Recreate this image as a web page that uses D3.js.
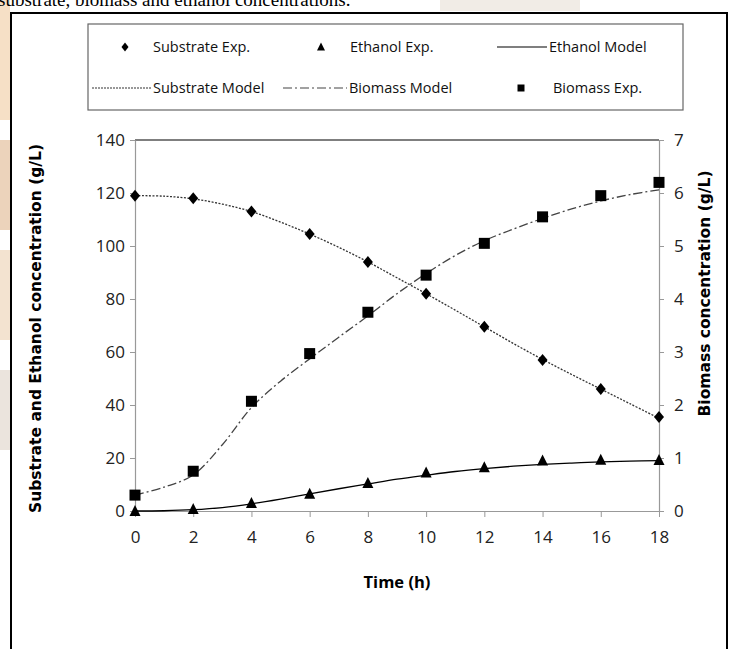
<!DOCTYPE html>
<html>
<head>
<meta charset="utf-8">
<script src="https://cdn.jsdelivr.net/npm/d3@7"></script>
<style>
body { margin:0; background:#fff; }
svg { display:block; }
</style>
</head>
<body>
<svg id="chart"></svg>
<script>
var screen = {width:730, height:649}
var margins = {top:140, right:71, bottom:138, left:135}

// time points (h)
var times = [0,2,4,6,8,10,12,14,16,18]
var modelTimes = [0,1,2,3,4,5,6,7,8,9,10,11,12,13,14,15,16,17,18]

// experimental values
var substrateExp = [119,118,113,104.5,94,82,69.5,57,46,35.5]
var ethanolExp = [0,0.7,3,6.5,10.5,14.5,16.5,19,19.3,19.2]
var biomassExp = [0.3,0.75,2.07,2.97,3.75,4.45,5.05,5.55,5.95,6.2]

// model curves (hourly)
var substrateModel = [119,118.8,117.8,115.8,113,109,104.5,99.5,94,88,82,75.8,69.5,63.2,57.2,51.5,46,40.5,35]
var ethanolModel = [0,0.1,0.5,1.3,2.7,4.5,6.5,8.4,10.2,12,13.5,14.9,16,16.9,17.6,18.1,18.5,18.8,19.0]
var biomassModel = [0.3,0.45,0.68,1.25,1.95,2.45,2.87,3.28,3.68,4.1,4.48,4.82,5.1,5.32,5.52,5.7,5.85,5.97,6.06]

// tick labels
var xTicks = [0,2,4,6,8,10,12,14,16,18]
var leftTicks = [0,20,40,60,80,100,120,140]
var rightTicks = [0,1,2,3,4,5,6,7]

var tickFont = "'Open Sans', sans-serif"

var svg = d3.select("#chart")
    .attr("width",screen.width)
    .attr("height",screen.height)

// faint page watermark at the left edge and top
var wm = svg.append("g").attr("id","watermark")
wm.append("rect").attr("x",0).attr("y",0).attr("width",10).attr("height",120).attr("fill","#f6e0c6")
wm.append("rect").attr("x",0).attr("y",140).attr("width",10).attr("height",90).attr("fill","#ecd3bb")
wm.append("rect").attr("x",0).attr("y",250).attr("width",10).attr("height",90).attr("fill","#f3e3d0")
wm.append("rect").attr("x",0).attr("y",370).attr("width",10).attr("height",80).attr("fill","#ebe4dd")
wm.append("rect").attr("x",440).attr("y",0).attr("width",140).attr("height",11).attr("fill","#f1ece6")

// caption of the page, cut at the top
svg.append("text")
    .attr("x",-2).attr("y",6)
    .style("font-family","'Liberation Serif', 'Times New Roman', serif")
    .style("font-size","19px")
    .attr("fill","#000")
    .text("substrate, biomass and ethanol concentrations.")

// outer frame
svg.append("path")
    .attr("d","M11,649 L11,13 L727,13 L727,649")
    .attr("fill","none").attr("stroke","#000").attr("stroke-width",2)
svg.append("rect").attr("x",12).attr("y",14).attr("width",714).attr("height",640).attr("fill","#fff")

var width = screen.width - margins.left - margins.right
var height = screen.height - margins.top - margins.bottom

var xScale = d3.scaleLinear().domain([0,18]).range([margins.left, margins.left+width])
var yLeft = d3.scaleLinear().domain([0,140]).range([margins.top+height, margins.top])
var yRight = d3.scaleLinear().domain([0,7]).range([margins.top+height, margins.top])

// plot area top border
svg.append("line")
    .attr("x1",xScale(0)).attr("x2",xScale(18))
    .attr("y1",yLeft(140)).attr("y2",yLeft(140))
    .attr("stroke","#555").attr("stroke-width",1.5)

//axes
var styleAxis = function(g)
{
    g.select(".domain").attr("stroke","#999").attr("stroke-width",1.2)
    g.selectAll(".tick line").attr("stroke","#999")
    g.selectAll(".tick text")
        .style("font-family",tickFont)
        .style("font-size","17px")
        .attr("fill","#222")
}

svg.append("g")
    .attr("transform","translate(0,"+yLeft(0)+")")
    .call(d3.axisBottom(xScale).tickValues(xTicks).tickSize(6).tickSizeOuter(0).tickPadding(14))
    .call(styleAxis)

svg.append("g")
    .attr("transform","translate("+xScale(0)+",0)")
    .call(d3.axisLeft(yLeft).tickValues(leftTicks).tickSize(5).tickSizeOuter(0).tickPadding(5))
    .call(styleAxis)

svg.append("g")
    .attr("transform","translate("+xScale(18)+",0)")
    .call(d3.axisRight(yRight).tickValues(rightTicks).tickFormat(d3.format("d")).tickSize(5).tickSizeOuter(0).tickPadding(10))
    .call(styleAxis)

// axis titles
svg.append("text")
    .attr("transform","translate(36,"+(yLeft(70)+3)+") rotate(-90)")
    .attr("text-anchor","middle")
    .attr("dy","0.35em")
    .style("font-family","'DejaVu Sans', Verdana, sans-serif")
    .style("font-weight","bold")
    .style("font-size","15.5px")
    .text("Substrate and Ethanol concentration (g/L)")

svg.append("text")
    .attr("transform","translate(705,"+(yRight(3.5)-32)+") rotate(-90)")
    .attr("text-anchor","middle")
    .attr("dy","0.35em")
    .style("font-family","'DejaVu Sans', Verdana, sans-serif")
    .style("font-weight","bold")
    .style("font-size","15.5px")
    .text("Biomass concentration (g/L)")

svg.append("text")
    .attr("x",(xScale(0)+xScale(18))/2).attr("y",588)
    .attr("text-anchor","middle")
    .style("font-family",tickFont)
    .style("font-weight","bold")
    .style("font-size","16.5px")
    .text("Time (h)")

// marker shapes
var diamond = function(w,h){ return "M0,"+(-h/2)+"L"+(w/2)+",0L0,"+(h/2)+"L"+(-w/2)+",0Z" }
var triangle = function(s){ return "M0,"+(-s*0.55)+"L"+(s/2)+","+(s*0.45)+"L"+(-s/2)+","+(s*0.45)+"Z" }
var square = function(s){ return "M"+(-s/2)+","+(-s/2)+"h"+s+"v"+s+"h"+(-s)+"Z" }

// model lines
var lineLeft = d3.line()
    .x(function(d,i){ return xScale(modelTimes[i]) })
    .y(function(d){ return yLeft(d) })
    .curve(d3.curveCatmullRom)
var lineRight = d3.line()
    .x(function(d,i){ return xScale(modelTimes[i]) })
    .y(function(d){ return yRight(d) })
    .curve(d3.curveCatmullRom)

svg.append("path").datum(substrateModel)
    .attr("d",lineLeft)
    .attr("fill","none").attr("stroke","#333").attr("stroke-width",1.3)
    .attr("stroke-dasharray","2,1.5")

svg.append("path").datum(biomassModel)
    .attr("d",lineRight)
    .attr("fill","none").attr("stroke","#444").attr("stroke-width",1.3)
    .attr("stroke-dasharray","9,3,2,3")

svg.append("path").datum(ethanolModel)
    .attr("d",lineLeft)
    .attr("fill","none").attr("stroke","#000").attr("stroke-width",1.3)

// experimental points
svg.selectAll(".subExp")
    .data(substrateExp)
    .enter()
    .append("path")
    .attr("class","subExp")
    .attr("d",diamond(10,12))
    .attr("transform",function(d,i){ return "translate("+xScale(times[i])+","+yLeft(d)+")" })

svg.selectAll(".ethExp")
    .data(ethanolExp)
    .enter()
    .append("path")
    .attr("class","ethExp")
    .attr("d",triangle(11))
    .attr("transform",function(d,i){ return "translate("+xScale(times[i])+","+yLeft(d)+")" })

svg.selectAll(".bioExp")
    .data(biomassExp)
    .enter()
    .append("path")
    .attr("class","bioExp")
    .attr("d",square(11))
    .attr("transform",function(d,i){ return "translate("+xScale(times[i])+","+yRight(d)+")" })

// legend
var legend = svg.append("g").attr("id","legend")
legend.append("rect")
    .attr("x",88).attr("y",24).attr("width",595).attr("height",86)
    .attr("fill","#fff").attr("stroke","#666").attr("stroke-width",1.2)

var legendText = function(x,y,label)
{
    legend.append("text")
        .attr("x",x).attr("y",y).attr("dy","0.35em")
        .style("font-family",tickFont)
        .style("font-size","14.5px")
        .attr("fill","#111")
        .text(label)
}
var legendLine = function(x1,x2,y,dash,color)
{
    legend.append("line")
        .attr("x1",x1).attr("x2",x2).attr("y1",y).attr("y2",y)
        .attr("stroke",color).attr("stroke-width",1.2)
        .attr("stroke-dasharray",dash)
}

legend.append("path").attr("d",diamond(7,9)).attr("transform","translate(125,47)")
legendText(153,47,"Substrate Exp.")
legend.append("path").attr("d",triangle(8)).attr("transform","translate(321,47)")
legendText(350,47,"Ethanol Exp.")
legendLine(497,547,47,null,"#000")
legendText(549,47,"Ethanol Model")

legendLine(92,151,88,"2,1","#333")
legendText(153,88,"Substrate Model")
legendLine(283,347,88,"9,3,2,3","#444")
legendText(349,88,"Biomass Model")
legend.append("path").attr("d",square(7)).attr("transform","translate(521,88)")
legendText(553,88,"Biomass Exp.")
</script>
</body>
</html>
